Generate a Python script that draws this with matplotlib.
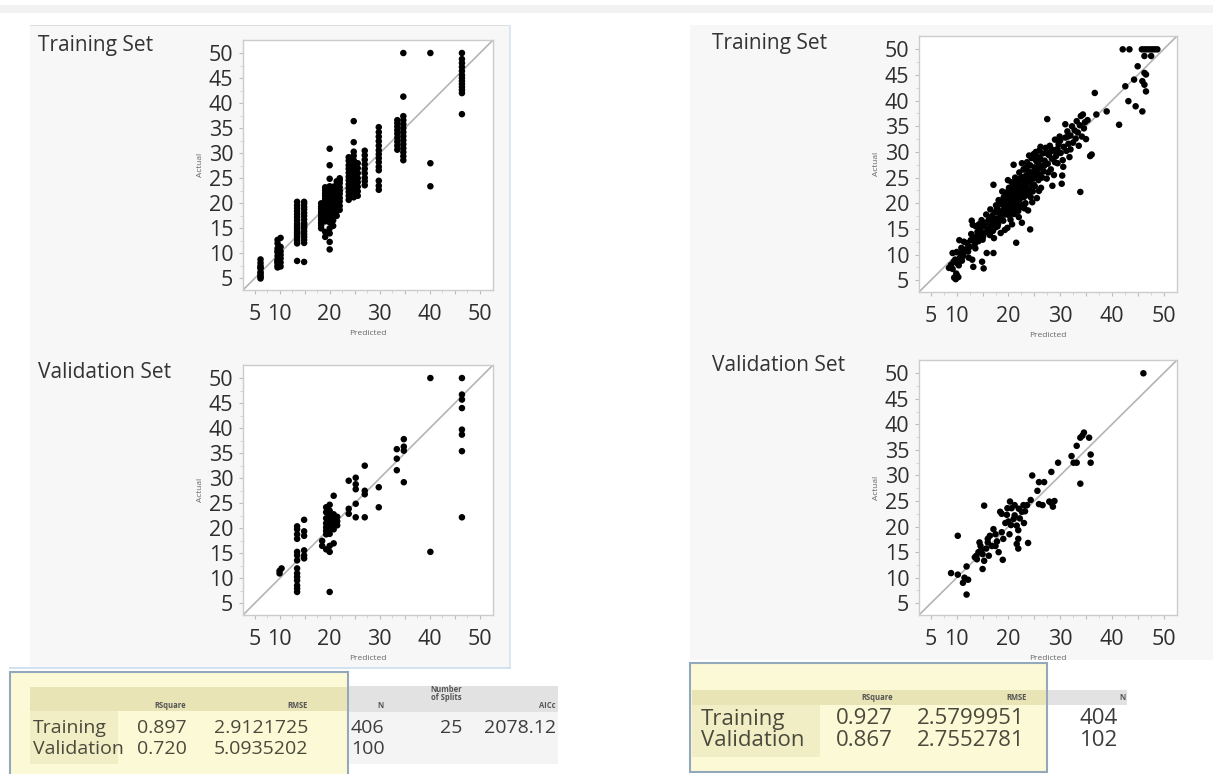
import numpy as np
import matplotlib
matplotlib.use("Agg")
import matplotlib.pyplot as plt
from matplotlib.patches import Rectangle

plt.rcParams['font.family'] = ['Open Sans', 'DejaVu Sans']

# ---- left model (decision tree): predicted levels and actual values per level ----
tree_train_pred = [6.2, 9.6, 10.2, 13.5, 14.9, 18.3, 19.1, 20.0, 20.7, 21.4, 22.0,
                   23.8, 24.8, 25.6, 27.0, 29.8, 33.5, 34.7, 40.1, 46.4]
tree_train_actual = [
    [5.0, 5.3, 5.6, 6.0, 6.3, 7.0, 7.2, 7.5, 8.1, 8.8],
    [7.2, 7.5, 8.0, 8.3, 8.5, 8.8, 9.5, 10.2, 10.5, 11.0, 12.0, 12.7],
    [7.4, 8.2, 9.0, 9.7, 10.4, 11.3, 13.1],
    [8.5, 12.0, 12.5, 13.0, 13.4, 13.8, 14.1, 14.5, 14.9, 15.2, 15.6, 16.0, 16.6,
     17.2, 17.8, 18.4, 19.0, 19.6, 20.3],
    [8.3, 12.1, 12.7, 13.3, 13.8, 14.4, 15.0, 15.4, 15.8, 16.1, 16.8, 17.5, 18.1,
     18.8, 19.3, 19.9, 20.3],
    [15.0, 15.6, 16.1, 16.7, 17.2, 17.8, 18.3, 18.9, 19.4, 20.0],
    [13.3, 14.3, 16.4, 17.0, 17.6, 18.2, 18.7, 19.3, 19.8, 20.4, 20.9, 21.5, 22.0,
     22.6, 23.2],
    [10.8, 12.3, 14.0, 15.0, 16.2, 17.0, 17.8, 18.5, 19.3, 20.0, 20.6, 21.2, 21.8,
     22.4, 23.0, 23.4, 24.9, 27.6, 30.9],
    [15.5, 16.6, 17.6, 18.5, 19.3, 20.1, 20.8, 21.4, 22.0, 22.7, 23.3],
    [17.5, 18.4, 19.3, 20.0, 20.6, 21.2, 21.9, 22.5, 23.1, 23.8, 24.4],
    [18.7, 19.5, 20.4, 21.1, 21.9, 22.5, 23.2, 24.0, 24.6, 25.0],
    [20.7, 21.5, 22.3, 23.0, 23.8, 24.6, 25.3, 26.1, 26.9, 27.6, 28.5, 29.2],
    [21.2, 22.0, 22.8, 23.7, 24.5, 25.2, 26.0, 26.8, 27.7, 28.6, 29.5, 30.3, 32.2, 36.4],
    [21.5, 22.4, 23.3, 24.2, 25.0, 26.0, 27.0, 28.0],
    [23.6, 24.4, 25.1, 26.0, 26.9, 27.8, 28.7, 29.6, 30.5],
    [22.7, 23.5, 24.5, 26.6, 27.3, 28.2, 29.0, 29.8, 30.6, 31.5, 32.4, 33.3, 34.2, 35.2],
    [30.7, 31.5, 32.3, 33.1, 33.9, 34.6, 35.3, 36.0, 36.6],
    [28.6, 29.4, 30.2, 31.0, 31.8, 32.6, 33.4, 34.2, 35.0, 35.8, 36.6, 37.4, 41.3, 50.0],
    [23.4, 28.0, 50.0],
    [37.8, 42.0, 42.6, 43.2, 43.8, 44.4, 45.0, 45.6, 46.4, 47.2, 48.0, 48.8, 50.0],
]

tree_valid_pred = [10.0, 10.4, 13.5, 14.9, 18.5, 19.3, 20.0, 20.8, 21.5, 23.8, 25.2,
                   27.0, 29.8, 33.4, 34.8, 40.1, 46.4]
tree_valid_actual = [
    [11.0, 11.5],
    [12.0],
    [7.3, 8.0, 8.6, 9.6, 10.3, 11.0, 12.0, 13.6, 14.6, 15.3, 17.9, 18.8, 19.8, 20.4],
    [14.0, 14.6, 15.6, 18.5, 19.4, 21.7],
    [16.5, 17.5],
    [15.8, 18.8, 19.5, 20.2, 21.0, 22.0, 23.2, 24.2],
    [7.3, 15.3, 16.5, 18.9, 19.6, 20.3, 21.3, 22.5, 23.5, 24.7],
    [17.0, 19.8, 20.7, 21.8, 22.8, 26.5],
    [20.6, 21.4, 22.3],
    [22.9, 23.9, 29.5],
    [22.2, 24.9, 27.8, 28.8, 30.1],
    [22.2, 26.8, 27.5, 32.5],
    [24.2, 28.2],
    [31.6, 33.9, 35.8],
    [29.2, 35.5, 36.3, 37.8],
    [15.3, 50.0],
    [22.2, 35.4, 38.7, 39.7, 44.0, 45.7, 46.7, 50.0],
]

# ---- right model: predicted / actual pairs ----
boost_train_pred = [
    8.5, 8.9, 9.2, 9.5, 9.8, 10.0, 10.3, 9.9, 9.4, 9.7, 10.1, 10.4, 10.6, 9.2, 10.0, 10.8,
    11.2, 11.5, 11.4, 10.9, 11.8, 12.2, 12.5, 12.0, 12.7, 13.2, 13.0, 14.9, 15.2, 13.1,
    13.7, 13.3, 13.5, 13.9, 14.2, 14.0, 14.5, 14.6, 14.9, 15.0, 15.3, 15.5, 15.8, 17.1,
    15.6, 16.0, 16.2, 16.4, 16.6, 16.8, 17.0, 17.1, 17.3, 17.5, 17.1, 17.7, 17.8, 18.0,
    18.2, 18.3, 18.5, 18.6, 18.7, 18.9, 19.0, 19.1, 19.2, 19.4, 19.5, 19.6, 19.7, 19.8,
    19.9, 20.0, 20.1, 20.2, 20.3, 20.4, 20.5, 20.6, 20.7, 20.7, 20.8, 20.9, 21.0, 21.0,
    21.1, 21.2, 21.3, 21.4, 21.5, 21.5, 21.6, 21.7, 21.8, 21.9, 22.0, 22.1, 22.2, 22.3,
    22.4, 22.5, 22.6, 22.6, 22.7, 22.8, 22.9, 23.0, 23.1, 23.2, 23.3, 23.4, 23.5, 23.6,
    23.7, 23.8, 23.9, 24.0, 24.1, 24.2, 24.2, 24.3, 24.4, 24.5, 24.6, 24.7, 24.8, 24.9,
    25.0, 25.1, 25.2, 25.3, 25.4, 25.5, 25.6, 25.7, 25.8, 25.9, 26.0, 26.1, 26.2, 26.3,
    26.4, 26.6, 26.8, 27.0, 27.2, 27.4, 27.5, 27.6, 27.8, 28.0, 28.2, 28.4, 28.6, 28.8,
    29.0, 29.2, 29.2, 29.5, 29.7, 29.9, 30.1, 30.3, 30.4, 30.6, 30.7, 31.0, 31.2, 31.4,
    31.6, 31.8, 32.0, 32.3, 32.5, 32.8, 33.0, 33.2, 33.4, 33.6, 33.8, 33.9, 34.0, 34.2,
    34.4, 34.6, 34.8, 35.0, 35.3, 35.8, 36.1, 36.7, 37.0, 39.0, 41.4, 42.1, 42.6, 43.2,
    43.4, 44.3, 44.6, 45.0, 45.8, 45.9, 45.9, 46.3, 46.3, 46.3, 46.3, 46.6, 46.6, 46.8,
    47.3, 47.6, 47.8, 48.3, 48.8,
    12.8, 13.6, 14.3, 14.8, 15.1, 15.7, 16.1, 16.5, 16.9, 17.2, 17.6, 17.9, 18.1, 18.4,
    18.8, 19.3, 19.5, 19.9, 20.2, 20.4, 20.6, 20.9, 21.1, 21.3, 21.6, 21.8, 22.0, 22.2,
    22.4, 22.7, 22.9, 23.1, 23.3, 23.5, 23.8, 24.0, 24.3, 24.6, 24.9, 25.2, 25.5, 25.9,
    26.2, 26.5, 26.9, 27.3, 27.7, 28.1, 28.5, 29.0, 29.5, 30.0, 30.5, 31.0, 31.5, 32.0,
    12.3, 11.0, 10.5, 12.9,
]
boost_train_actual = [
    7.4, 8.0, 7.2, 5.5, 5.2, 6.0, 5.6, 6.3, 8.6, 9.0, 8.3, 7.9, 9.4, 10.3, 10.5, 10.2,
    9.7, 10.5, 12.5, 11.3, 11.0, 10.6, 11.5, 12.2, 12.8, 7.6, 9.0, 8.6, 7.3, 15.8,
    15.5, 13.0, 12.1, 13.6, 12.6, 14.4, 13.3, 15.0, 14.1, 12.9, 15.6, 14.3, 10.3, 10.3,
    16.2, 15.0, 16.8, 13.8, 15.7, 17.5, 14.6, 16.4, 18.2, 15.3, 23.6, 17.0, 19.0, 16.0,
    18.1, 19.8, 14.2, 17.4, 20.5, 18.6, 16.6, 21.2, 19.4, 17.8, 20.2, 22.1, 18.9, 15.2,
    21.0, 19.6, 23.0, 17.6, 20.5, 22.0, 18.7, 24.1, 15.9, 21.3, 19.6, 23.0, 27.5, 20.4,
    17.9, 22.3, 25.0, 19.2, 12.3, 21.1, 23.6, 20.0, 24.6, 18.5, 22.0, 26.0, 20.8, 23.3,
    21.6, 25.1, 16.2, 27.8, 19.7, 22.6, 24.2, 21.2, 26.6, 23.1, 20.0, 25.4, 22.1, 28.0,
    24.0, 18.6, 26.2, 22.8, 25.0, 14.9, 27.4, 21.2, 23.9, 28.8, 26.0, 22.3, 24.8, 29.6,
    27.0, 23.3, 25.8, 30.0, 28.2, 21.0, 26.6, 29.0, 24.5, 27.6, 30.3, 25.6, 28.6, 23.0,
    27.0, 29.7, 26.2, 28.3, 30.8, 24.8, 36.4, 27.7, 29.4, 31.2, 26.6, 28.7, 30.4, 25.5,
    32.4, 29.2, 30.0, 27.8, 31.5, 33.0, 29.8, 23.8, 25.4, 27.1, 31.0, 32.8, 30.2, 34.0,
    31.6, 29.0, 33.2, 35.0, 31.8, 34.2, 32.6, 36.0, 33.8, 31.2, 35.2, 22.2, 37.0, 33.0,
    37.3, 34.6, 35.8, 32.5, 36.2, 29.2, 29.5, 41.5, 37.3, 37.9, 35.3, 50.0, 42.8, 39.9,
    50.0, 44.1, 38.9, 46.7, 50.0, 43.8, 37.9, 50.0, 48.7, 45.4, 43.1, 45.1, 41.8, 50.0,
    50.0, 48.7, 50.0, 50.0, 50.0,
    14.0, 11.2, 15.9, 16.7, 13.5, 17.8, 14.4, 18.8, 16.0, 13.2, 19.6, 15.5, 20.6, 16.9,
    22.3, 14.8, 18.3, 24.5, 21.7, 16.8, 20.0, 18.2, 24.0, 21.8, 19.0, 22.9, 17.3, 24.4,
    19.3, 21.5, 26.6, 19.0, 24.6, 27.0, 21.6, 29.3, 25.9, 20.2, 23.6, 28.6, 25.2, 22.4,
    31.0, 25.0, 27.3, 29.8, 26.0, 30.0, 23.4, 28.0, 30.6, 32.2, 28.4, 35.4, 33.0, 30.5,
    9.4, 8.8, 12.8, 16.6,
]

boost_valid_pred = [
    8.9, 10.2, 10.2, 11.9, 11.5, 11.2, 12.2, 11.9, 13.5, 13.8, 14.4, 14.6, 14.2, 15.0,
    15.3, 15.0, 15.7, 16.0, 16.2, 16.0, 16.4, 17.1, 16.8, 15.3, 17.5, 17.8, 18.1, 18.4,
    18.7, 19.0, 18.9, 18.7, 19.4, 19.7, 20.3, 20.6, 21.2, 21.2, 21.6, 21.9, 22.2, 22.6,
    22.9, 23.2, 23.6, 23.0, 21.9, 21.6, 21.9, 23.8, 20.0, 20.5, 21.0, 22.0, 20.2, 24.6,
    25.9, 26.9, 25.6, 26.6, 25.9, 28.3, 28.3, 28.6, 27.9, 28.9, 29.6, 32.2, 33.2, 32.6,
    33.2, 33.9, 34.3, 34.6, 35.6, 35.9, 35.9, 33.9, 46.1, 24.3, 19.8, 17.5, 13.9, 14.8,
]
boost_valid_actual = [
    10.9, 10.6, 18.2, 12.2, 10.0, 9.0, 9.6, 6.7, 14.0, 14.3, 16.9, 16.2, 15.0, 14.6,
    13.3, 11.7, 15.7, 16.9, 14.3, 17.6, 18.2, 19.5, 16.2, 24.1, 16.2, 17.1, 15.0, 22.9,
    22.5, 17.6, 13.5, 18.9, 20.7, 22.3, 24.9, 23.6, 24.2, 22.2, 20.2, 19.3, 21.6, 22.9,
    24.2, 23.0, 24.2, 20.7, 17.6, 16.6, 15.7, 16.8, 21.0, 20.3, 21.5, 23.5, 18.5, 30.0,
    28.7, 28.7, 27.0, 24.2, 24.4, 30.7, 24.6, 23.9, 24.9, 25.0, 32.5, 33.8, 32.5, 32.5,
    35.8, 37.4, 37.8, 38.4, 37.4, 34.1, 32.5, 28.4, 50.0, 25.2, 23.6, 18.5, 13.6, 15.5,
]

# ---- fit tables ----
row_names = ['Training', 'Validation']
tree_rsq = ['0.897', '0.720']
tree_rmse = ['2.9121725', '5.0935202']
tree_n = ['406', '100']
tree_splits = '25'
tree_aicc = '2078.12'
boost_rsq = ['0.927', '0.867']
boost_rmse = ['2.5799951', '2.7552781']
boost_n = ['404', '102']

x_ticks = [5, 10, 15, 20, 25, 30, 35, 40, 45, 50]
x_ticklabels = ['5', '10', '', '20', '', '30', '', '40', '', '50']
y_ticks = [5, 10, 15, 20, 25, 30, 35, 40, 45, 50]

W, H = 1213, 774
fig = plt.figure(figsize=(W / 100, H / 100), dpi=100)
fig.patch.set_facecolor('white')


def rect(x0, y0, x1, y1, fc, ec='none', lw=0, z=0):
    fig.patches.append(Rectangle((x0 / W, 1 - y1 / H), (x1 - x0) / W, (y1 - y0) / H,
                                 transform=fig.transFigure, facecolor=fc, edgecolor=ec,
                                 linewidth=lw, zorder=z))


def txt(x, y, s, size=13, ha='left', color='#3c3c3c', weight='normal', z=5):
    fig.text(x / W, 1 - y / H, s, fontsize=size, ha=ha, va='center', color=color,
             fontweight=weight, zorder=z)


# panel backgrounds
rect(0, 5, W, 13, '#f2f2f2', z=-5)
rect(30, 25, 510, 668, '#f7f7f7', z=-5)
rect(30, 25, 510, 26, '#dedede', z=-4)
rect(509, 25, 511, 668, '#dde7f1', z=-4)
rect(9, 667, 511, 669, '#d3e2ef', z=-4)
rect(690, 25, W, 660, '#f7f7f7', z=-5)


def scatter_panel(box, xs, ys):
    x0, y0, x1, y1 = box
    ax = fig.add_axes([x0 / W, 1 - y1 / H, (x1 - x0) / W, (y1 - y0) / H])
    ax.set_zorder(10)
    lo, hi = 2.7, 52.6
    ax.plot([lo, hi], [lo, hi], color='#b4b4b4', lw=1.2, zorder=1)
    ax.scatter(xs, ys, s=22, color='black', edgecolors='none', zorder=3)
    ax.set_xlim(lo, hi)
    ax.set_ylim(lo, hi)
    ax.set_xticks(x_ticks)
    ax.set_xticklabels(x_ticklabels)
    ax.set_yticks(y_ticks)
    ax.set_xticks(np.arange(7.5, 50, 5), minor=True)
    ax.set_yticks(np.arange(7.5, 50, 5), minor=True)
    ax.tick_params(which='major', direction='out', length=3, color='#bdbdbd',
                   labelsize=15.5, labelcolor='#2e2e2e')
    ax.tick_params(which='minor', direction='out', length=2, color='#d0d0d0')
    ax.tick_params(axis='x', pad=7)
    ax.tick_params(axis='y', pad=4)
    for sp in ax.spines.values():
        sp.set_color('#cccccc')
        sp.set_linewidth(1.0)
    ax.set_xlabel('Predicted', fontsize=6, color='#666666', labelpad=4)
    ax.set_ylabel('Actual', fontsize=6, color='#666666', labelpad=3)
    return ax


lt_x = np.repeat(tree_train_pred, [len(a) for a in tree_train_actual])
lt_y = np.concatenate(tree_train_actual)
lv_x = np.repeat(tree_valid_pred, [len(a) for a in tree_valid_actual])
lv_y = np.concatenate(tree_valid_actual)

scatter_panel((243, 40, 493, 290), lt_x, lt_y)
scatter_panel((243, 365, 493, 615), lv_x, lv_y)
scatter_panel((919, 36, 1177, 292), boost_train_pred, boost_train_actual)
scatter_panel((919, 360, 1177, 615), boost_valid_pred, boost_valid_actual)

txt(38, 46, 'Training Set', size=15, color='#333333')
txt(38, 372, 'Validation Set', size=15, color='#333333')
txt(712, 43, 'Training Set', size=15, color='#333333')
txt(712, 366, 'Validation Set', size=15, color='#333333')

# ---- left table ----
yellow = '#fcfad6'
khaki = '#e8e4b6'
khaki2 = '#f1eec6'
border = '#93a9bb'
rect(10, 672, 348, 780, yellow, ec=border, lw=1.5, z=1)
rect(30, 687, 347, 711, khaki, z=2)
rect(30, 711, 118, 764, khaki2, z=2)
rect(349, 686, 558, 712, '#e2e2e2', z=1)
rect(349, 712, 558, 764, '#f4f4f4', z=1)

hc = '#555555'
txt(186, 706, 'RSquare', size=5.5, ha='right', color=hc, weight='bold')
txt(308, 706, 'RMSE', size=5.5, ha='right', color=hc, weight='bold')
txt(383, 706, 'N', size=5.5, ha='right', color=hc, weight='bold')
txt(462, 690, 'Number', size=5.5, ha='right', color=hc, weight='bold')
txt(462, 698, 'of Splits', size=5.5, ha='right', color=hc, weight='bold')
txt(556, 706, 'AICc', size=5.5, ha='right', color=hc, weight='bold')

tc = '#4a4a3c'
for i, ry in enumerate([728, 749]):
    txt(33, ry, row_names[i], size=14, color=tc)
    txt(187, ry, tree_rsq[i], size=14, ha='right', color=tc)
    txt(308, ry, tree_rmse[i], size=14, ha='right', color=tc)
    txt(351, ry, tree_n[i], size=14, color='#3c3c3c')
txt(462, 728, tree_splits, size=14, ha='right')
txt(556, 728, tree_aicc, size=14, ha='right')

# ---- right table ----
rect(690, 663, 1047, 772, yellow, ec=border, lw=1.5, z=1)
rect(692, 690, 1046, 705, khaki, z=2)
rect(692, 705, 820, 757, khaki2, z=2)
rect(1048, 690, 1127, 705, '#e2e2e2', z=1)

txt(893, 698, 'RSquare', size=5.5, ha='right', color=hc, weight='bold')
txt(1027, 698, 'RMSE', size=5.5, ha='right', color=hc, weight='bold')
txt(1125, 698, 'N', size=5.5, ha='right', color=hc, weight='bold')
for i, ry in enumerate([719, 740]):
    txt(701, ry, row_names[i], size=16, color=tc)
    txt(893, ry, boost_rsq[i], size=16, ha='right', color=tc)
    txt(1024, ry, boost_rmse[i], size=16, ha='right', color=tc)
    txt(1118, ry, boost_n[i], size=16, ha='right')

fig.savefig('out.png', dpi=100)
